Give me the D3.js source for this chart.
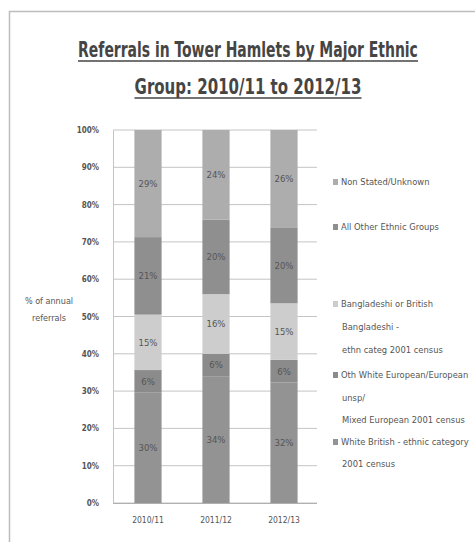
<!DOCTYPE html>
<html>
<head>
<meta charset="utf-8">
<script src="https://cdn.jsdelivr.net/npm/d3@7"></script>
<style>
  body { margin: 0; background: #fff; }
  text { font-family: "Liberation Sans Narrow", "DejaVu Sans Condensed", "Arial Narrow", sans-serif; }
</style>
</head>
<body>
<svg width="475" height="542"></svg>
<script>
// categories
const years = ["2010/11", "2011/12", "2012/13"];

// series values (% of annual referrals), bottom to top
const whiteBritish = [30, 34, 32];
const othWhiteEuropean = [6, 6, 6];
const bangladeshi = [15, 16, 15];
const allOther = [21, 20, 20];
const nonStated = [29, 24, 26];

const seriesKeys = ["whiteBritish", "othWhiteEuropean", "bangladeshi", "allOther", "nonStated"];
const seriesValues = [whiteBritish, othWhiteEuropean, bangladeshi, allOther, nonStated];
const seriesColors = ["#939393", "#8b8b8b", "#cdcdcd", "#8f8f8f", "#adadad"];

// legend labels, top to bottom
const legendLabels = [
  ["Non Stated/Unknown"],
  ["All Other Ethnic Groups"],
  ["Bangladeshi or British", "Bangladeshi -", "ethn categ 2001 census"],
  ["Oth White European/European", "unsp/", "Mixed European 2001 census"],
  ["White British - ethnic category", "2001 census"]
];
const legendKeys = ["nonStated", "allOther", "bangladeshi", "othWhiteEuropean", "whiteBritish"];

const yTicks = [0, 0.1, 0.2, 0.3, 0.4, 0.5, 0.6, 0.7, 0.8, 0.9, 1];

const svg = d3.select("svg");

// frame
svg.append("rect")
  .attr("x", 9.5).attr("y", 11.5)
  .attr("width", 480).attr("height", 540)
  .attr("fill", "none").attr("stroke", "#bdbdbd").attr("stroke-width", 1.5);

// title: narrow, tall lettering like the original
const titleLines = [
  { text: "Referrals in Tower Hamlets by Major Ethnic", y: 57, w: 340 },
  { text: "Group: 2010/11 to 2012/13", y: 94, w: 227 }
];
titleLines.forEach((t) => {
  const txt = svg.append("text")
    .attr("text-anchor", "middle")
    .attr("font-size", 15).attr("font-weight", "bold")
    .attr("fill", "#454545")
    .text(t.text);
  const len = txt.node().getComputedTextLength();
  txt.attr("transform", `translate(248,${t.y}) scale(${t.w / len},1.4)`);
  svg.append("line")
    .attr("x1", 248 - t.w / 2).attr("x2", 248 + t.w / 2)
    .attr("y1", t.y + 4).attr("y2", t.y + 4)
    .attr("stroke", "#454545").attr("stroke-width", 1.6);
});

// data table
const table = years.map((yr, i) => {
  const row = { year: yr };
  seriesKeys.forEach((k, j) => (row[k] = seriesValues[j][i]));
  return row;
});

const stack = d3.stack().keys(seriesKeys).offset(d3.stackOffsetExpand);
const stacked = stack(table);

const x = d3.scaleBand().domain(years).range([114, 318]).paddingInner(0.6).paddingOuter(0.3);
const y = d3.scaleLinear().domain([0, 1]).range([503, 130]);

// gridlines
svg.append("g")
  .selectAll("line")
  .data(yTicks)
  .enter()
  .append("line")
  .attr("x1", 113).attr("x2", 317)
  .attr("y1", (d) => y(d)).attr("y2", (d) => y(d))
  .attr("stroke", "#c4c4c4").attr("stroke-width", 1);

// left axis
const yAxis = svg.append("g")
  .attr("transform", "translate(113,0)")
  .call(d3.axisLeft(y).tickValues(yTicks).tickSize(0).tickPadding(14).tickFormat(d3.format(".0%")));
yAxis.select(".domain").attr("stroke", "#c4c4c4");
yAxis.selectAll("text")
  .attr("font-size", 8).attr("font-weight", "bold").attr("fill", "#555")
  .attr("font-family", "'Liberation Sans Narrow', 'DejaVu Sans Condensed', sans-serif");

// y axis title
svg.append("text")
  .attr("x", 49).attr("y", 304)
  .attr("text-anchor", "middle").attr("font-size", 9).attr("fill", "#555")
  .text("% of annual");
svg.append("text")
  .attr("x", 49).attr("y", 321)
  .attr("text-anchor", "middle").attr("font-size", 9).attr("fill", "#555")
  .text("referrals");

// bars
const layers = svg.append("g")
  .selectAll("g")
  .data(stacked)
  .enter()
  .append("g")
  .attr("fill", (d, i) => seriesColors[i]);

layers.selectAll("rect")
  .data((d) => d)
  .enter()
  .append("rect")
  .attr("x", (d) => x(d.data.year))
  .attr("y", (d) => y(d[1]))
  .attr("width", x.bandwidth())
  .attr("height", (d) => y(d[0]) - y(d[1]));

// segment labels
layers.each(function (layer) {
  d3.select(this)
    .selectAll("text")
    .data(layer)
    .enter()
    .append("text")
    .attr("x", (d) => x(d.data.year) + x.bandwidth() / 2)
    .attr("y", (d) => (y(d[0]) + y(d[1])) / 2 + 3.5)
    .attr("text-anchor", "middle")
    .attr("font-size", 9.5)
    .attr("fill", "#555")
    .text((d) => d.data[layer.key] + "%");
});

// bottom axis
const xAxis = svg.append("g")
  .attr("transform", "translate(0,503)")
  .call(d3.axisBottom(x).tickSize(0).tickPadding(14).tickSizeOuter(0));
xAxis.select(".domain").attr("stroke", "#b0b0b0").attr("d", "M113,0.5H317");
xAxis.selectAll("text")
  .attr("font-size", 8.5).attr("fill", "#555")
  .attr("font-family", "'Liberation Sans Narrow', 'DejaVu Sans Condensed', sans-serif");

// legend
const legendY = [185, 230, 307, 378, 445];
const lineGap = [0, 0, 23, 22.5, 22];
legendLabels.forEach((lines, i) => {
  const color = seriesColors[seriesKeys.indexOf(legendKeys[i])];
  svg.append("rect")
    .attr("x", 333).attr("y", legendY[i] - 6)
    .attr("width", 5).attr("height", 6)
    .attr("fill", color);
  lines.forEach((ln, j) => {
    svg.append("text")
      .attr("x", j === 0 ? 341 : 342)
      .attr("y", legendY[i] + j * lineGap[i])
      .attr("font-size", 9.3).attr("fill", "#555")
      .text(ln);
  });
});
</script>
</body>
</html>
